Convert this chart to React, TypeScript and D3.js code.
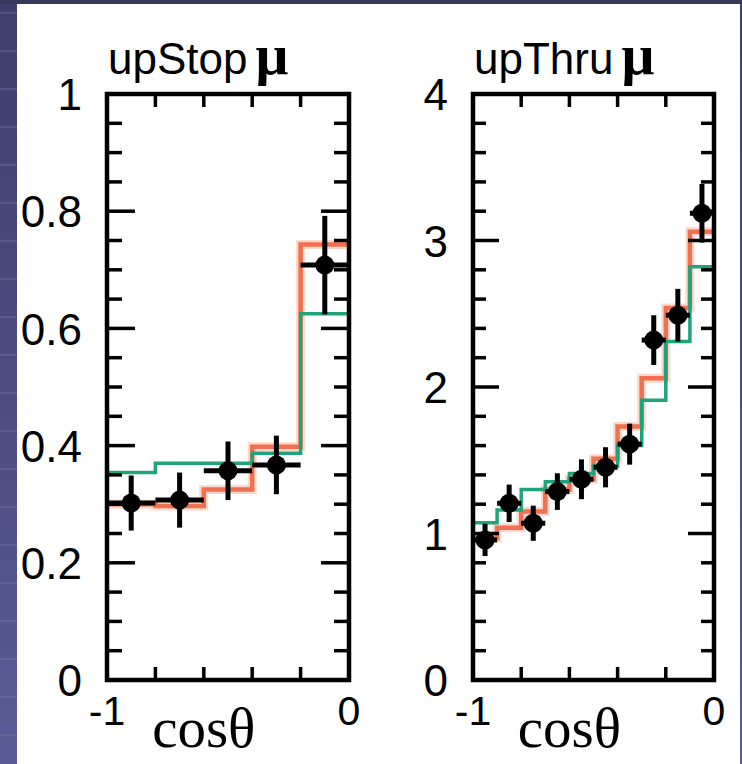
import React from "react";
import * as d3 from "d3";

// ---------- data ----------
const xDomain = [-1, 0];
const xTickLabels = ["-1", "0"];
const xTickValues = [-1, 0];

// upStop mu panel
const upStopEdges = [-1, -0.8, -0.6, -0.4, -0.2, 0];
const upStopData = [0.302, 0.307, 0.357, 0.367, 0.708];
const upStopErr = [0.047, 0.047, 0.05, 0.05, 0.084];
const upStopRed = [0.3, 0.297, 0.325, 0.398, 0.743];
const upStopGreen = [0.354, 0.37, 0.37, 0.387, 0.625];
const upStopYTicks = [0, 0.2, 0.4, 0.6, 0.8, 1];
const upStopYLabels = ["0", "0.2", "0.4", "0.6", "0.8", "1"];

// upThru mu panel
const upThruEdges = [-1, -0.9, -0.8, -0.7, -0.6, -0.5, -0.4, -0.3, -0.2, -0.1, 0];
const upThruData = [0.956, 1.206, 1.07, 1.286, 1.37, 1.452, 1.61, 2.32, 2.49, 3.186];
const upThruErr = [0.11, 0.128, 0.12, 0.125, 0.136, 0.137, 0.14, 0.17, 0.18, 0.2];
const upThruRed = [0.97, 1.04, 1.15, 1.3, 1.37, 1.51, 1.73, 2.06, 2.54, 3.06];
const upThruGreen = [1.074, 1.16, 1.3, 1.354, 1.41, 1.46, 1.6, 1.91, 2.31, 2.82];
const upThruYTicks = [0, 1, 2, 3, 4];
const upThruYLabels = ["0", "1", "2", "3", "4"];

const W = 742;
const H = 764;

type PanelProps = {
  left: number;
  right: number;
  top: number;
  bottom: number;
  yMax: number;
  minorCount: number;
  majorTicks: number[];
  majorLabels: string[];
  title: string;
  edges: number[];
  red: number[];
  green: number[];
  data: number[];
  err: number[];
  minorLen: number;
  majorLen: number;
};

function Panel(p: PanelProps) {
  const x = d3.scaleLinear().domain(xDomain).range([p.left, p.right]);
  const y = d3.scaleLinear().domain([0, p.yMax]).range([p.bottom, p.top]);

  const stepLine = d3
    .line<[number, number]>()
    .x((d) => x(d[0]))
    .y((d) => y(d[1]))
    .curve(d3.curveStepAfter);

  const stepPts = (vals: number[]): [number, number][] =>
    p.edges.map((e, i) => [e, vals[Math.min(i, vals.length - 1)]] as [number, number]);

  const minor = y.ticks(p.minorCount).filter((t) => t > 0 && t < p.yMax);
  const majorSet = new Set(p.majorTicks.map((t) => t.toFixed(4)));
  const xTicks = x.ticks(5).filter((t) => t > -1 && t < 0);
  const xTickLen = 13;
  const labelFont = "'Liberation Sans', Arial, Helvetica, sans-serif";

  return (
    <g>
      {/* histograms */}
      <path d={stepLine(stepPts(p.red)) || ""} fill="none" stroke="#f9b9a3" strokeWidth={9} strokeOpacity={0.55} />
      <path d={stepLine(stepPts(p.red)) || ""} fill="none" stroke="#f0704f" strokeWidth={4.5} />
      <path d={stepLine(stepPts(p.green)) || ""} fill="none" stroke="#1fa37a" strokeWidth={3.5} />

      {/* data points */}
      {p.data.map((v, i) => {
        const cx = x((p.edges[i] + p.edges[i + 1]) / 2);
        return (
          <g key={i}>
            <line x1={x(p.edges[i])} x2={x(p.edges[i + 1])} y1={y(v)} y2={y(v)} stroke="#000" strokeWidth={5} />
            <line x1={cx} x2={cx} y1={y(v - p.err[i])} y2={y(v + p.err[i])} stroke="#000" strokeWidth={5} />
            <circle cx={cx} cy={y(v)} r={9.5} fill="#000" />
          </g>
        );
      })}

      {/* frame ticks */}
      {minor.map((t, i) => {
        const len = majorSet.has(t.toFixed(4)) ? p.majorLen : p.minorLen;
        return (
          <g key={"yt" + i}>
            <line x1={p.left} x2={p.left + len} y1={y(t)} y2={y(t)} stroke="#000" strokeWidth={3.5} />
            <line x1={p.right} x2={p.right - len} y1={y(t)} y2={y(t)} stroke="#000" strokeWidth={3.5} />
          </g>
        );
      })}
      {xTicks.map((t, i) => (
        <g key={"xt" + i}>
          <line x1={x(t)} x2={x(t)} y1={p.bottom} y2={p.bottom - xTickLen} stroke="#000" strokeWidth={3.5} />
          <line x1={x(t)} x2={x(t)} y1={p.top} y2={p.top + xTickLen} stroke="#000" strokeWidth={3.5} />
        </g>
      ))}
      <rect
        x={p.left}
        y={p.top}
        width={p.right - p.left}
        height={p.bottom - p.top}
        fill="none"
        stroke="#000"
        strokeWidth={4.5}
      />

      {/* y labels */}
      {p.majorTicks.map((t, i) => (
        <text
          key={"yl" + i}
          x={p.left - 25}
          y={y(t)}
          dy="0.37em"
          textAnchor="end"
          fontFamily={labelFont}
          fontSize={44}
          fill="#000"
        >
          {p.majorLabels[i]}
        </text>
      ))}
      {/* x labels */}
      {xTickValues.map((t, i) => (
        <text
          key={"xl" + i}
          x={x(t)}
          y={p.bottom + 45}
          textAnchor="middle"
          fontFamily={labelFont}
          fontSize={41}
          fill="#000"
        >
          {xTickLabels[i]}
        </text>
      ))}
      <text
        x={x(-0.6)}
        y={p.bottom + 67}
        textAnchor="middle"
        fontFamily="'Liberation Serif', 'Times New Roman', serif"
        fontSize={57}
        fill="#000"
      >
        cosθ
      </text>

      {/* title */}
      <text x={p.left + 1} y={p.top - 20} fontFamily={labelFont} fontSize={44} fill="#000">
        {p.title}
        <tspan dx={8} fontFamily="'Liberation Serif', 'DejaVu Serif', serif" fontSize={58} fontWeight="bold">
          μ
        </tspan>
      </text>
    </g>
  );
}

export default function App() {
  const stripes = d3.range(12, H, 38);
  return (
    <svg
      width={W}
      height={H}
      viewBox={`0 0 ${W} ${H}`}
      style={{ position: "absolute", left: 0, top: 0, display: "block" }}
    >
      <defs>
        <linearGradient id="bgGrad" x1="0" y1="0" x2="0" y2="1">
          <stop offset="0" stopColor="#3e3e6c" />
          <stop offset="1" stopColor="#5a5a96" />
        </linearGradient>
      </defs>
      <rect x={0} y={0} width={W} height={H} fill="url(#bgGrad)" />
      {stripes.map((s, i) => (
        <rect key={i} x={0} y={s} width={17} height={2} fill="#7a7aa8" opacity={0.35} />
      ))}
      <rect x={0} y={0} width={W} height={4} fill="#38385f" />
      <rect x={17} y={4} width={723} height={H - 4} fill="#ffffff" />

      <Panel
        left={107}
        right={349}
        top={94}
        bottom={680}
        yMax={1}
        minorCount={20}
        majorTicks={upStopYTicks}
        majorLabels={upStopYLabels}
        title="upStop"
        edges={upStopEdges}
        red={upStopRed}
        green={upStopGreen}
        data={upStopData}
        err={upStopErr}
        minorLen={15}
        majorLen={28}
      />
      <Panel
        left={473}
        right={714}
        top={94}
        bottom={680}
        yMax={4}
        minorCount={20}
        majorTicks={upThruYTicks}
        majorLabels={upThruYLabels}
        title="upThru"
        edges={upThruEdges}
        red={upThruRed}
        green={upThruGreen}
        data={upThruData}
        err={upThruErr}
        minorLen={13}
        majorLen={26}
      />
    </svg>
  );
}
